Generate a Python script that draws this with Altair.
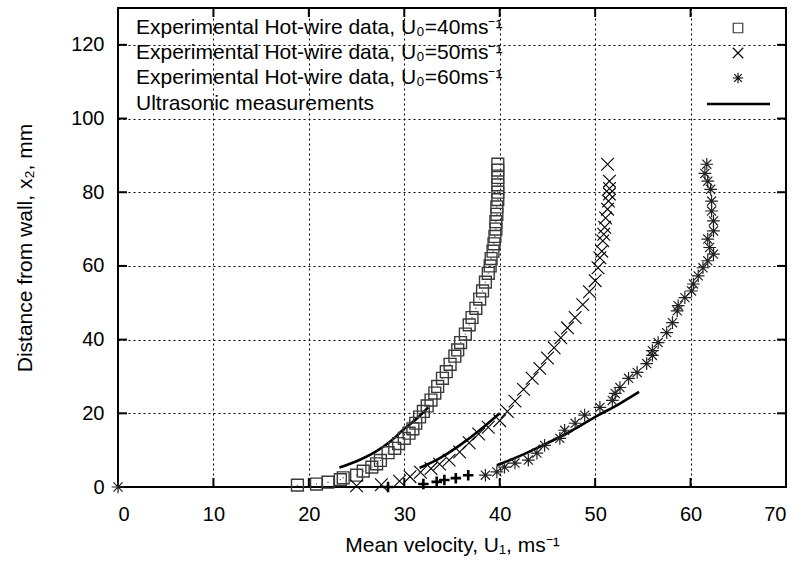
import altair as alt
import pandas as pd

# ---- Experimental hot-wire data, U0 = 40 m/s (squares) ----
u40 = [18.8, 20.8, 22.0, 23.3, 23.6, 25.0, 25.7, 26.6, 27.1, 27.5, 28.3, 29.0, 29.4, 30.0,
       30.5, 30.9, 31.2, 31.6, 32.0, 32.4, 32.8, 33.2, 33.5, 34.0, 34.4, 34.8, 35.3, 35.6,
       35.9, 36.4, 36.8, 37.1, 37.5, 37.9, 38.2, 38.5, 38.8, 39.0, 39.1, 39.3, 39.4, 39.5,
       39.6, 39.6, 39.7, 39.7, 39.8, 39.8, 39.8, 39.8, 39.8, 39.8]
x40 = [0.5, 0.8, 1.3, 2.0, 2.5, 3.2, 4.3, 5.4, 6.3, 7.2, 9.3, 10.5, 11.8, 13.2,
       14.6, 15.8, 17.3, 19.0, 20.5, 22.0, 23.6, 25.5, 27.3, 29.5, 31.3, 33.3, 35.5, 37.2,
       39.2, 41.5, 44.0, 46.0, 48.5, 51.0, 53.2, 55.6, 58.0, 60.0, 62.0, 64.0, 66.0, 68.0,
       70.0, 72.0, 74.0, 76.0, 78.0, 80.0, 82.0, 84.0, 86.0, 87.6]

# ---- U0 = 50 m/s (crosses) ----
u50 = [25.0, 27.6, 29.5, 30.6, 31.7, 32.8, 33.7, 34.7, 35.8, 36.8, 37.8, 38.8, 40.0, 40.8,
       41.6, 42.5, 43.4, 44.2, 45.0, 45.7, 46.4, 47.1, 47.9, 48.7, 49.4, 50.0, 50.3, 50.5,
       50.7, 50.8, 50.9, 51.0, 51.1, 51.3, 51.4, 51.5, 51.5, 51.5, 51.3]
x50 = [0.3, 0.6, 1.6, 2.8, 4.0, 5.0, 6.2, 7.3, 9.5, 12.0, 14.4, 16.2, 18.0, 20.5,
       23.3, 26.5, 29.5, 32.2, 35.0, 37.8, 40.5, 43.2, 46.0, 49.5, 53.0, 56.0, 59.5, 62.2,
       64.0, 66.8, 68.6, 70.5, 73.0, 75.4, 77.6, 79.5, 81.0, 83.0, 87.6]

# ---- U0 = 60 m/s (asterisks) ----
u60 = [0.0, 38.5, 39.7, 40.5, 41.6, 43.0, 43.9, 44.7, 46.3, 46.8, 47.9, 48.9, 50.5, 51.8,
       52.1, 52.6, 53.5, 54.4, 55.4, 56.0, 56.0, 56.6, 57.5, 58.1, 58.6, 58.7, 59.4, 60.1,
       60.3, 60.8, 61.3, 61.8, 62.4, 62.0, 61.8, 62.4, 62.4, 62.2, 62.2, 62.1, 61.8, 61.5, 61.7]
x60 = [0.0, 3.2, 4.1, 5.4, 6.5, 7.3, 9.2, 11.3, 13.2, 15.4, 17.3, 19.5, 21.6, 23.5,
       25.4, 27.0, 29.5, 31.1, 33.5, 35.7, 37.0, 39.2, 41.9, 44.6, 47.8, 49.2, 51.4, 53.2,
       55.1, 57.3, 59.5, 61.4, 63.2, 65.0, 67.3, 69.5, 72.2, 74.9, 77.6, 80.8, 83.0, 85.1, 87.6]

# ---- near-wall points drawn with '+' ----
u_plus = [28.3, 32.0, 33.4, 34.2, 35.4, 36.7]
x_plus = [0.0, 0.8, 1.4, 1.9, 2.4, 3.2]

# ---- Ultrasonic measurements (three curves) ----
us_u = [[23.2, 25.0, 27.0, 28.5, 30.0, 31.5, 32.5],
        [31.6, 33.5, 35.8, 37.9, 40.0],
        [39.7, 42.0, 44.5, 47.5, 50.2, 52.5, 54.6]]
us_x = [[5.3, 7.0, 9.6, 12.3, 15.8, 19.0, 21.6],
        [5.2, 7.5, 11.3, 15.4, 20.0],
        [5.9, 8.3, 11.3, 15.2, 19.3, 22.5, 25.8]]

x_ticks = [0, 10, 20, 30, 40, 50, 60, 70]
y_ticks = [0, 20, 40, 60, 80, 100, 120]

legend_labels = ["Experimental Hot-wire data, U\u2080=40ms\u207b\u00b9",
                 "Experimental Hot-wire data, U\u2080=50ms\u207b\u00b9",
                 "Experimental Hot-wire data, U\u2080=60ms\u207b\u00b9",
                 "Ultrasonic measurements"]

FONT = "Liberation Sans"
W, H = 668, 479

XPATH = "M-1,-1L1,1M-1,1L1,-1"
STAR = "M-1,0L1,0M0,-1L0,1M-0.72,-0.72L0.72,0.72M-0.72,0.72L0.72,-0.72"
PLUS = "M-1,0L1,0M0,-1L0,1"

xs = alt.Scale(domain=[0, 70], nice=False, zero=False)
ys = alt.Scale(domain=[0, 130], nice=False, zero=False)

AX = alt.Axis(
    values=x_ticks, title="Mean velocity, U\u2081, ms\u207b\u00b9",
    grid=True, gridDash=[2, 3], gridColor="black", gridOpacity=1, gridWidth=1,
    ticks=False, domain=False, labelFont=FONT, labelFontSize=20, labelColor="black",
    labelPadding=17, titleFont=FONT, titleFontSize=21, titleFontWeight="normal",
    titleColor="black", titleX=W / 2, titleY=58, titleBaseline="middle")
AY = alt.Axis(
    values=y_ticks, title="Distance from wall, x\u2082, mm",
    grid=True, gridDash=[2, 3], gridColor="black", gridOpacity=1, gridWidth=1,
    ticks=False, domain=False, labelFont=FONT, labelFontSize=20, labelColor="black",
    labelPadding=14, titleFont=FONT, titleFontSize=21, titleFontWeight="normal",
    titleColor="black", titleX=-93, titleY=H / 2, titleAngle=270,
    titleBaseline="middle", titleAlign="center")


def X(f):
    return alt.X(f, scale=xs, axis=AX)


def Y(f):
    return alt.Y(f, scale=ys, axis=AY)


df40 = pd.DataFrame({"u": u40, "x2": x40})
df50 = pd.DataFrame({"u": u50, "x2": x50})
df60 = pd.DataFrame({"u": u60, "x2": x60})
dfp = pd.DataFrame({"u": u_plus, "x2": x_plus})
rows = []
for i, (uu, xx) in enumerate(zip(us_u, us_x)):
    for a, b in zip(uu, xx):
        rows.append({"u": a, "x2": b, "seg": i})
dfl = pd.DataFrame(rows)

xt = pd.DataFrame({"u": x_ticks})
yt = pd.DataFrame({"x2": y_ticks})

# inward ticks on all four sides
xtick_b = alt.Chart(xt).mark_rule(color="black", strokeWidth=2).encode(
    x=X("u:Q"), y=alt.value(H), y2=alt.value(H - 9))
xtick_t = alt.Chart(xt).mark_rule(color="black", strokeWidth=2).encode(
    x=X("u:Q"), y=alt.value(0), y2=alt.value(9))
ytick_l = alt.Chart(yt).mark_rule(color="black", strokeWidth=2).encode(
    y=Y("x2:Q"), x=alt.value(0), x2=alt.value(9))
ytick_r = alt.Chart(yt).mark_rule(color="black", strokeWidth=2).encode(
    y=Y("x2:Q"), x=alt.value(W), x2=alt.value(W - 9))

sq = alt.Chart(df40).mark_point(shape="square", size=140, filled=False,
                                color="#3a3a3a", strokeWidth=1.4, opacity=1).encode(
    x=X("u:Q"), y=Y("x2:Q"))
sqdot = alt.Chart(df40).mark_point(shape="circle", size=2, filled=True,
                                   color="#555", opacity=1).encode(
    x=X("u:Q"), y=Y("x2:Q"))
cr = alt.Chart(df50).mark_point(shape=XPATH, size=160, filled=False,
                                color="black", strokeWidth=1.1, opacity=1).encode(
    x=X("u:Q"), y=Y("x2:Q"))
st = alt.Chart(df60).mark_point(shape=STAR, size=160, filled=False,
                                color="#222", strokeWidth=1.2, opacity=1).encode(
    x=X("u:Q"), y=Y("x2:Q"))
pl = alt.Chart(dfp).mark_point(shape=PLUS, size=110, filled=False,
                               color="black", strokeWidth=2.6, opacity=1).encode(
    x=X("u:Q"), y=Y("x2:Q"))
ln = alt.Chart(dfl).mark_line(color="black", strokeWidth=2.6, interpolate="monotone").encode(
    x=X("u:Q"), y=Y("x2:Q"), detail="seg:N")

# manual legend (gnuplot style: text left, sample right); y relative to plot top
row_y = [20, 45, 70, 96]
leg_layers = []
for lab, yy in zip(legend_labels, row_y):
    leg_layers.append(alt.Chart(pd.DataFrame({"lab": [lab]})).mark_text(
        align="left", baseline="middle", font=FONT, fontSize=21, color="black").encode(
        text="lab:N", x=alt.value(18), y=alt.value(yy)))
sym_df = pd.DataFrame({"k": [0]})
leg_layers.append(alt.Chart(sym_df).mark_point(shape="square", size=90, filled=False,
                  color="#3a3a3a", strokeWidth=1.2, opacity=1).encode(
    x=alt.value(620), y=alt.value(row_y[0])))
leg_layers.append(alt.Chart(sym_df).mark_point(shape=XPATH, size=110, filled=False,
                  color="black", strokeWidth=1.1, opacity=1).encode(
    x=alt.value(620), y=alt.value(row_y[1])))
leg_layers.append(alt.Chart(sym_df).mark_point(shape=STAR, size=110, filled=False,
                  color="black", strokeWidth=1.1, opacity=1).encode(
    x=alt.value(620), y=alt.value(row_y[2])))
leg_layers.append(alt.Chart(sym_df).mark_rule(color="black", strokeWidth=2.6).encode(
    x=alt.value(589), x2=alt.value(652), y=alt.value(row_y[3])))

chart = alt.layer(xtick_b, xtick_t, ytick_l, ytick_r, ln, sq, sqdot, cr, st, pl,
                  *leg_layers).properties(
    width=W, height=H,
    autosize=alt.AutoSizeParams(type="none"),
    padding={"left": 118, "top": 8, "right": 17, "bottom": 74},
    background="white",
).configure_view(stroke="black", strokeWidth=2)

chart.save("out.html", embed_options={"renderer": "svg", "actions": False})
